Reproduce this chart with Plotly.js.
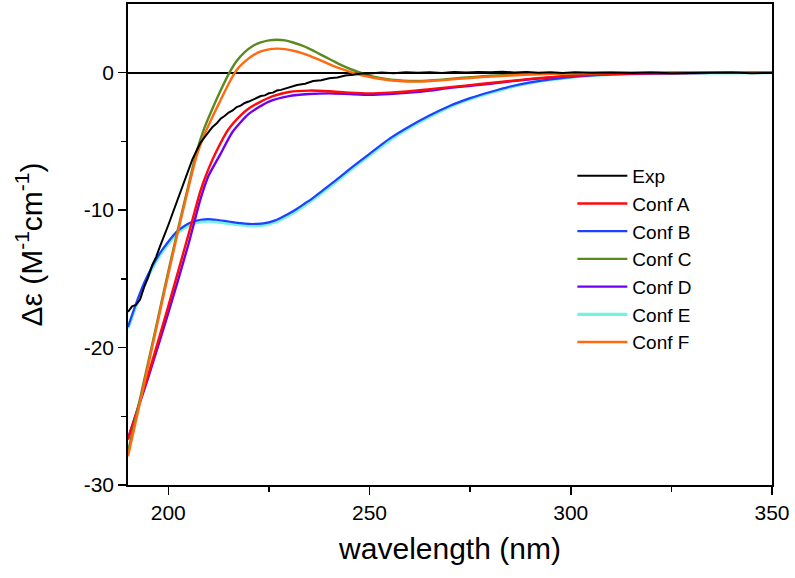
<!DOCTYPE html>
<html><head><meta charset="utf-8">
<script src="https://cdn.plot.ly/plotly-3.0.1.min.js"></script>
<style>html,body{margin:0;padding:0;background:#fff}#chart{width:795px;height:578px}</style>
</head><body><div id="chart"></div>
<script>
// Experimental spectrum
const expX = [190,191,192,193,194,195,196,197,198,199,200,201,202,203,204,205,206,207,208,209,210,211,212,213,214,215,216,217,218,219,220,221,222,223,224,225,226,227,228,229,230,232,234,236,238,240,242,244,246,248,250,253,256,259,262,265,268,271,274,277,280,283,286,289,292,295,298,301,305,310,315,320,325,330,335,340,345,350];
const expY = [-17.4,-17.0,-16.9,-16.5,-15.6,-14.9,-14.0,-13.4,-12.6,-11.9,-11.1,-10.3,-9.5,-8.6,-7.8,-7.0,-6.3,-5.7,-5.1,-4.7,-4.3,-3.95,-3.7,-3.35,-3.15,-2.9,-2.75,-2.5,-2.4,-2.2,-2.1,-1.95,-1.85,-1.7,-1.65,-1.5,-1.45,-1.3,-1.25,-1.15,-1.1,-0.9,-0.8,-0.6,-0.55,-0.4,-0.35,-0.2,-0.15,-0.05,-0.05,0.02,-0.03,0.03,0.0,0.04,-0.02,0.05,0.02,0.06,0.03,0.07,0.02,0.05,0.0,0.03,-0.02,0.04,0.0,0.02,-0.02,0.01,-0.03,0.0,-0.02,0.01,-0.03,-0.02];

// Conf A
const confAX = [190,195,200,205,208,210,212,215,218,220,223,226,230,235,240,245,250,255,260,265,270,275,280,285,290,295,300,310,320,335,350];
const confAY = [-26.7,-22.0,-17.0,-11.8,-8.6,-7.0,-5.7,-4.1,-3.1,-2.6,-2.1,-1.7,-1.4,-1.3,-1.35,-1.45,-1.5,-1.45,-1.35,-1.2,-1.05,-0.9,-0.75,-0.6,-0.45,-0.33,-0.22,-0.1,-0.04,-0.01,0];

// Conf B
const confBX = [190,192,194,196,198,200,202,204,206,208,210,212,214,216,218,220,222,224,226,228,230,232,234,236,238,240,243,246,250,255,260,265,270,275,280,285,290,295,300,305,310,320,335,350];
const confBY = [-18.5,-16.8,-15.3,-14.1,-13.1,-12.3,-11.6,-11.15,-10.85,-10.7,-10.65,-10.7,-10.78,-10.87,-10.95,-11.0,-11.0,-10.95,-10.8,-10.55,-10.25,-9.9,-9.5,-9.1,-8.65,-8.2,-7.5,-6.8,-5.9,-4.8,-3.9,-3.1,-2.4,-1.85,-1.4,-1.0,-0.7,-0.48,-0.32,-0.2,-0.12,-0.05,-0.01,0];

// Conf C
const confCX = [190,193,196,199,202,205,207,209,211,213,215,217,219,221,223,225,227,229,231,233,235,237,239,241,243,245,247,249,251,254,257,260,263,266,270,275,280,290,300,320,350];
const confCY = [-27.6,-23.7,-19.8,-15.8,-11.9,-8.2,-5.8,-4.0,-2.6,-1.3,-0.1,0.85,1.5,1.95,2.2,2.35,2.4,2.35,2.2,2.0,1.75,1.45,1.15,0.85,0.55,0.3,0.08,-0.12,-0.28,-0.45,-0.55,-0.6,-0.6,-0.55,-0.45,-0.33,-0.22,-0.1,-0.04,0,0];

// Conf D
const confDX = [190,195,200,205,208,210,213,216,220,225,230,235,240,245,250,255,260,265,270,275,280,285,290,295,300,310,320,335,350];
const confDY = [-26.6,-22.2,-17.5,-12.5,-9.2,-7.5,-5.9,-4.3,-3.0,-2.1,-1.7,-1.55,-1.5,-1.55,-1.6,-1.55,-1.45,-1.3,-1.1,-0.95,-0.8,-0.63,-0.48,-0.35,-0.24,-0.1,-0.04,-0.01,0];

// Conf E
const confEX = [190,192,194,196,198,200,202,204,206,208,210,212,214,216,218,220,222,224,226,228,230,232,234,236,238,240,243,246,250,255,260,265,270,275,280,285,290,295,300,305,310,320,335,350];
const confEY = [-18.6,-16.95,-15.45,-14.25,-13.25,-12.45,-11.75,-11.3,-11.0,-10.85,-10.8,-10.85,-10.92,-11.0,-11.08,-11.12,-11.12,-11.07,-10.92,-10.68,-10.38,-10.03,-9.63,-9.22,-8.78,-8.33,-7.62,-6.92,-6.02,-4.92,-4.0,-3.2,-2.48,-1.92,-1.46,-1.05,-0.74,-0.51,-0.34,-0.22,-0.13,-0.06,-0.01,0];

// Conf F
const confFX = [190,193,196,199,202,205,207,209,211,213,215,217,219,221,223,225,227,229,231,233,235,237,239,241,243,245,247,249,252,255,258,261,264,268,272,278,285,295,305,320,350];
const confFY = [-27.9,-24.0,-20.0,-16.0,-12.1,-8.4,-6.1,-4.5,-3.2,-2.0,-0.8,0.2,0.8,1.25,1.55,1.7,1.75,1.72,1.6,1.45,1.25,1.0,0.75,0.5,0.28,0.08,-0.1,-0.25,-0.42,-0.55,-0.62,-0.65,-0.62,-0.55,-0.45,-0.32,-0.2,-0.08,-0.02,0,0];

const names = ['Exp','Conf A','Conf B','Conf C','Conf D','Conf E','Conf F'];
const colors = ['#000000','#ff0a0a','#2040ff','#5a8a1e','#7000f0','#6ff5e0','#ff6a10'];

function tr(x, y, i, w, rank) {
  return {x: x, y: y, name: names[i], type: 'scatter', mode: 'lines',
    line: {color: colors[i], width: w, shape: 'spline', smoothing: 0.6}, legendrank: rank};
}
const data = [
  tr(confEX, confEY, 5, 3.2, 6),
  tr(confBX, confBY, 2, 2.2, 3),
  tr(confDX, confDY, 4, 2.4, 5),
  tr(confAX, confAY, 1, 2.4, 2),
  tr(confCX, confCY, 3, 2.4, 4),
  tr(confFX, confFY, 6, 2.4, 7),
  {x: expX, y: expY, name: names[0], type: 'scatter', mode: 'lines',
   line: {color: colors[0], width: 2}, legendrank: 1}
];

const font = {family: 'Liberation Sans, Arial, sans-serif', color: '#000'};
const layout = {
  width: 795, height: 578,
  margin: {l: 128, r: 23, t: 4, b: 93},
  paper_bgcolor: '#fff', plot_bgcolor: '#fff',
  font: font,
  showlegend: true,
  legend: {x: 0.69, y: 0.682, xanchor: 'left', yanchor: 'top', bgcolor: 'rgba(0,0,0,0)',
    font: {family: font.family, size: 19, color: '#000'}, itemwidth: 50, tracegroupgap: 0},
  xaxis: {
    range: [190, 350], showgrid: false, zeroline: false,
    showline: true, linecolor: '#000', linewidth: 1.8, mirror: true,
    ticks: 'outside', ticklen: 8, tickwidth: 1.5, tickcolor: '#000',
    tickvals: [200, 250, 300, 350], ticktext: ['200','250','300','350'],
    minor: {tickvals: [225, 275, 325], ticks: 'outside', ticklen: 5, tickwidth: 1.5, tickcolor: '#000'},
    tickfont: {family: font.family, size: 21, color: '#000'},
    title: {text: 'wavelength (nm)', font: {family: font.family, size: 30, color: '#000'}, standoff: 15}
  },
  yaxis: {
    range: [-30, 5], showgrid: false,
    zeroline: true, zerolinecolor: '#000', zerolinewidth: 1.6,
    showline: true, linecolor: '#000', linewidth: 1.8, mirror: true,
    ticks: 'outside', ticklen: 8, tickwidth: 1.5, tickcolor: '#000',
    tickvals: [-30, -20, -10, 0], ticktext: ['-30','-20','-10','0'],
    minor: {tickvals: [-25, -15, -5], ticks: 'outside', ticklen: 5, tickwidth: 1.5, tickcolor: '#000'},
    tickfont: {family: font.family, size: 21, color: '#000'},
    title: {text: 'Δε (M<sup>-1</sup>cm<sup>-1</sup>)', font: {family: font.family, size: 30, color: '#000'}, standoff: 32}
  }
};
Plotly.newPlot('chart', data, layout, {displayModeBar: false, staticPlot: true});
</script></body></html>
